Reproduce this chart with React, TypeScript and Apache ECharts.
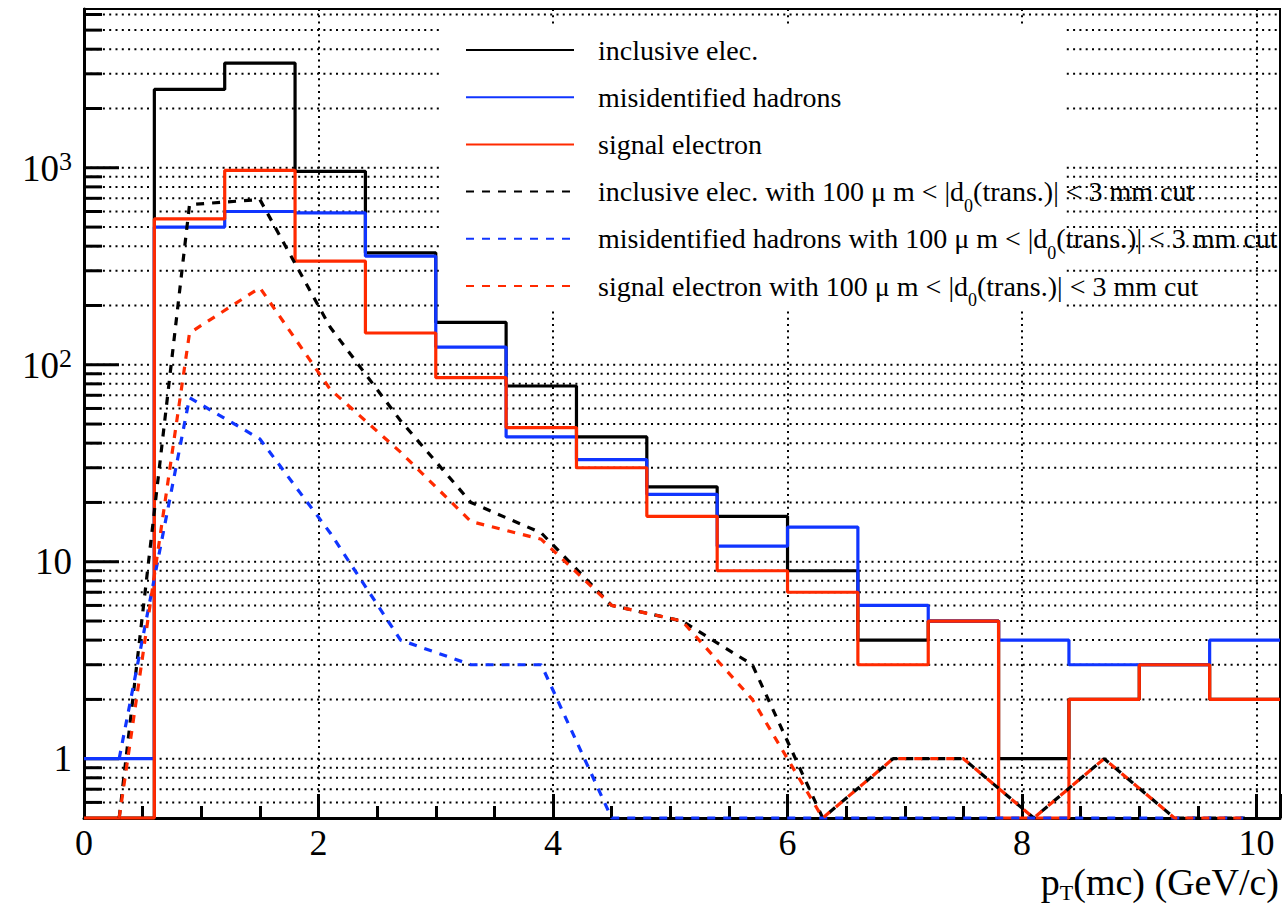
import React, { useEffect, useRef } from 'react';
import * as echarts from 'echarts';

// ---------- axis ranges ----------
const X_MIN = 0;
const X_MAX = 10.2;
const Y_MIN = 0.5;
const Y_MAX = 6400;

// ---------- histogram bins (width 0.6 GeV/c) ----------
const BIN_CENTERS = [0.3, 0.9, 1.5, 2.1, 2.7, 3.3, 3.9, 4.5, 5.1, 5.7, 6.3, 6.9, 7.5, 8.1, 8.7, 9.3, 9.9];

// solid histograms
const inclusiveElec = [0, 2500, 3400, 960, 370, 164, 78, 43, 24, 17, 9, 4, 5, 1, 2, 3, 2];
const misidHadrons = [1, 500, 600, 590, 356, 123, 43, 33, 22, 12, 15, 6, 5, 4, 3, 3, 4];
const signalElec = [0, 550, 970, 336, 145, 86, 48, 30, 17, 9, 7, 3, 5, 0, 2, 3, 2];

// dashed curves (with d0 cut)
const inclusiveCut = [0, 650, 690, 155, 52, 20, 14, 6, 5, 3, 0, 1, 1, 0, 1, 0, 0];
const misidCut = [1, 68, 42, 14, 4, 3, 3, 0, 0, 0, 0, 0, 0, 0, 0, 0, 0];
const signalCut = [0, 145, 246, 75, 36, 16, 13, 6, 5, 2, 0, 1, 1, 0, 1, 0, 0];

// ---------- ticks / labels ----------
const Y_GRID_VALUES = [
  0.6, 0.7, 0.8, 0.9,
  1, 2, 3, 4, 5, 6, 7, 8, 9,
  10, 20, 30, 40, 50, 60, 70, 80, 90,
  100, 200, 300, 400, 500, 600, 700, 800, 900,
  1000, 2000, 3000, 4000, 5000, 6000,
];
const Y_LABEL_VALUES = [1, 10, 100, 1000];
const Y_LABEL_TEXTS = ['1', '10', '{b|10}{s|2}', '{b|10}{s|3}'];
const X_TICK_VALUES = [0, 2, 4, 6, 8, 10];
const X_TICK_LABELS = ['0', '2', '4', '6', '8', '10'];

const SERIES_NAMES = [
  'inclusive elec.',
  'misidentified hadrons',
  'signal electron',
  'inclusive elec. with 100 μ m < |d0(trans.)| < 3 mm cut',
  'misidentified hadrons with 100 μ m < |d0(trans.)| < 3 mm cut',
  'signal electron with 100 μ m < |d0(trans.)| < 3 mm cut',
];

const BLACK = '#000000';
const BLUE = '#1035ff';
const RED = '#ff2a00';
const FONT = '"Liberation Serif", "DejaVu Serif", serif';
const GRID_DASH = [2, 4.3];

const floorVal = (v: number) => (v > 0 ? v : Y_MIN);

const histData = (vals: number[]) => [
  [X_MIN, floorVal(vals[0])],
  ...BIN_CENTERS.map((c, i) => [c, floorVal(vals[i])]),
  [X_MAX, floorVal(vals[vals.length - 1])],
];

const curveData = (vals: number[]) => BIN_CENTERS.map((c, i) => [c, floorVal(vals[i])]);

const isDecade = (v: number) => {
  const l = Math.log10(v);
  return Math.abs(l - Math.round(l)) < 1e-6;
};

export default function App() {
  const ref = useRef<HTMLDivElement>(null);

  useEffect(() => {
    if (!ref.current) return;
    const chart = echarts.init(ref.current, null, { renderer: 'svg' });

    const solid = (name: string, color: string, vals: number[]) => ({
      type: 'line',
      name,
      data: histData(vals),
      step: 'middle',
      symbol: 'none',
      clip: false,
      z: 2,
      lineStyle: { color, width: 3.2 },
      itemStyle: { color },
    });
    const dashed = (name: string, color: string, vals: number[]) => ({
      type: 'line',
      name,
      data: curveData(vals),
      symbol: 'none',
      clip: false,
      z: 2,
      lineStyle: { color, width: 3.2, type: [8, 8] },
      itemStyle: { color },
    });

    const option: any = {
      animation: false,
      backgroundColor: '#ffffff',
      textStyle: { fontFamily: FONT },
      grid: {
        left: 84,
        right: 4,
        top: 9,
        bottom: 87,
        show: true,
        borderColor: '#000',
        borderWidth: 2,
        backgroundColor: 'transparent',
      },
      xAxis: {
        type: 'value',
        min: X_MIN,
        max: X_MAX,
        interval: 2,
        axisLine: { show: true, onZero: false, lineStyle: { color: '#000', width: 3 } },
        axisTick: { show: true, inside: true, length: 24, lineStyle: { color: '#000', width: 3 } },
        minorTick: { show: true, splitNumber: 4, length: 12, lineStyle: { color: '#000', width: 3 } },
        axisLabel: {
          margin: 12,
          fontFamily: FONT,
          fontSize: 36,
          lineHeight: 26,
          color: '#000',
          showMaxLabel: false,
          formatter: (v: number) => {
            const i = X_TICK_VALUES.findIndex((t) => Math.abs(t - v) < 1e-6);
            return i >= 0 ? X_TICK_LABELS[i] : '';
          },
        },
        splitLine: { show: true, lineStyle: { color: '#000', width: 2, type: GRID_DASH } },
      },
      yAxis: {
        type: 'log',
        logBase: 10,
        min: Y_MIN,
        max: Y_MAX,
        axisLine: { show: true, onZero: false, lineStyle: { color: '#000', width: 3 } },
        axisTick: { show: false },
        minorTick: { show: false },
        splitLine: { show: false },
        minorSplitLine: { show: false },
        axisLabel: {
          margin: 12,
          fontFamily: FONT,
          fontSize: 37,
          color: '#000',
          formatter: (v: number) => {
            if (!isDecade(v)) return '';
            const i = Y_LABEL_VALUES.findIndex((t) => Math.abs(t - v) / t < 1e-6);
            return i >= 0 ? Y_LABEL_TEXTS[i] : '';
          },
          rich: {
            b: { fontFamily: FONT, fontSize: 37, color: '#000', lineHeight: 38, verticalAlign: 'bottom' },
            s: { fontFamily: FONT, fontSize: 26, color: '#000', lineHeight: 38, verticalAlign: 'top' },
          },
        },
      },
      legend: {
        orient: 'vertical',
        left: 465,
        top: 27,
        padding: 0,
        itemWidth: 108,
        itemHeight: 14,
        itemGap: 1.2,
        selectedMode: false,
        data: SERIES_NAMES,
        itemStyle: { opacity: 0 },
        formatter: (name: string) => '{gap| }' + name.replace('|d0(', '|d{sub|0}('),
        textStyle: {
          fontFamily: FONT,
          fontSize: 28,
          color: '#000',
          lineHeight: 46,
          rich: {
            gap: { width: 19, fontFamily: FONT, fontSize: 28, lineHeight: 46 },
            sub: { fontFamily: FONT, fontSize: 18, color: '#000', lineHeight: 46, verticalAlign: 'bottom' },
          },
        },
      },
      graphic: [
        {
          type: 'rect',
          z: 1,
          silent: true,
          shape: { x: 443, y: 25, width: 620, height: 284 },
          style: { fill: '#ffffff' },
        },
        {
          type: 'text',
          z: 5,
          right: 5,
          top: 863,
          style: {
            text: '{a|p}{s|T}{a|(mc) (GeV/c)}',
            fill: '#000',
            rich: {
              a: { fontFamily: FONT, fontSize: 38, fill: '#000', lineHeight: 30 },
              s: { fontFamily: FONT, fontSize: 22, fill: '#000', lineHeight: 30, verticalAlign: 'top', padding: [14, 0, 0, 0] },
            },
          },
        },
      ],
      series: [
        {
          type: 'custom',
          name: '__grid',
          coordinateSystem: 'cartesian2d',
          z: 0,
          silent: true,
          data: Y_GRID_VALUES.map((v) => [X_MIN, v]),
          encode: { x: 0, y: 1 },
          renderItem: (params: any, api: any) => {
            const v = api.value(1);
            const a = api.coord([X_MIN, v]);
            const b = api.coord([X_MAX, v]);
            const major = isDecade(v);
            return {
              type: 'group',
              children: [
                {
                  type: 'line',
                  shape: { x1: a[0], y1: a[1], x2: b[0], y2: b[1] },
                  style: { stroke: '#000', lineWidth: 2, lineDash: GRID_DASH },
                },
                {
                  type: 'line',
                  shape: { x1: a[0], y1: a[1], x2: a[0] + (major ? 35 : 18), y2: a[1] },
                  style: { stroke: '#000', lineWidth: 3 },
                },
              ],
            };
          },
        },
        solid(SERIES_NAMES[0], BLACK, inclusiveElec),
        solid(SERIES_NAMES[1], BLUE, misidHadrons),
        solid(SERIES_NAMES[2], RED, signalElec),
        dashed(SERIES_NAMES[3], BLACK, inclusiveCut),
        dashed(SERIES_NAMES[4], BLUE, misidCut),
        dashed(SERIES_NAMES[5], RED, signalCut),
      ],
    };

    chart.setOption(option);
    return () => chart.dispose();
  }, []);

  return (
    <div
      ref={ref}
      style={{ position: 'fixed', left: 0, top: 0, width: 1284, height: 905, background: '#fff' }}
    />
  );
}
